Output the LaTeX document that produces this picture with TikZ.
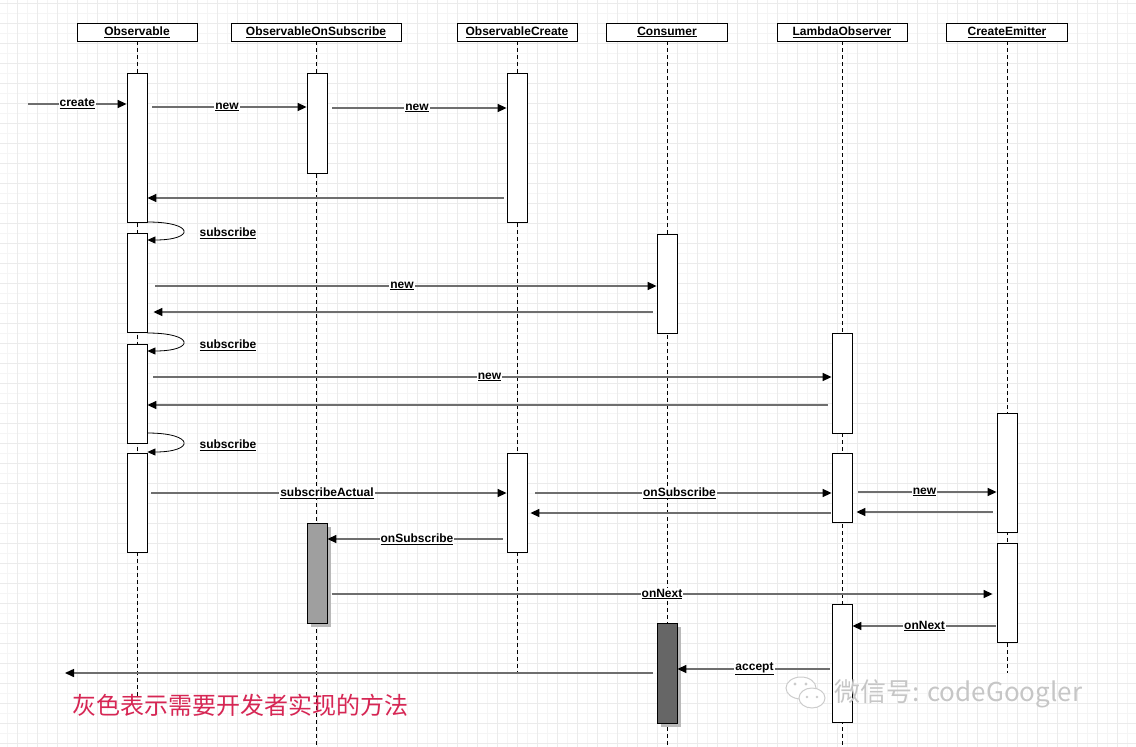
\documentclass[tikz,border=0pt]{standalone}
\usepackage{fontspec}
\setmainfont{Liberation Sans}
\newfontfamily\cjk{Noto Sans CJK SC}
\usetikzlibrary{arrows.meta,shadows}

\definecolor{msggray}{HTML}{6E6E6E}
\definecolor{notered}{RGB}{214,38,84}

\tikzset{
  head/.style={draw, fill=white, line width=0.8pt, minimum height=18pt, inner sep=0pt,
    font=\fontsize{12}{13}\selectfont\bfseries},
  life/.style={line width=0.6pt, dash pattern=on 4pt off 3pt},
  actbox/.style={draw, fill=white, line width=0.8pt, minimum width=20pt, inner sep=0pt},
  userbox/.style={actbox, drop shadow={shadow xshift=4pt, shadow yshift=-4pt, fill=gray!55, opacity=1}},
  msg/.style={draw=msggray, line width=1.5pt, -{Triangle[length=9pt,width=8pt,color=black]}},
  selfmsg/.style={draw=black, line width=0.8pt, -{Triangle[length=8pt,width=7pt]}},
  lab/.style={fill=white, inner sep=1pt, font=\fontsize{12}{13}\selectfont\bfseries},
}

\begin{document}
\begin{tikzpicture}[x=1pt, y=-1pt]
  \useasboundingbox (0,0) rectangle (1136,747);
  % grid paper
  \foreach \gx in {7,17,...,1136} \draw[gray!8, line width=0.5pt] (\gx,0) -- (\gx,747);
  \foreach \gy in {3,13,...,747} \draw[gray!8, line width=0.5pt] (0,\gy) -- (1136,\gy);
  \foreach \gx in {17,37,...,1136} \draw[gray!16, line width=0.6pt] (\gx,0) -- (\gx,747);
  \foreach \gy in {3,23,...,747} \draw[gray!16, line width=0.6pt] (0,\gy) -- (1136,\gy);

  % lifeline heads
  \node[head, minimum width=120pt] at (137, 32)  (obs) {\underline{Observable}};
  \node[head, minimum width=170pt] at (316, 32)  (ons) {\underline{ObservableOnSubscribe}};
  \node[head, minimum width=120pt] at (517, 32)  (cre) {\underline{ObservableCreate}};
  \node[head, minimum width=121pt] at (667, 32)  (con) {\underline{Consumer}};
  \node[head, minimum width=130pt] at (842, 32)  (lam) {\underline{LambdaObserver}};
  \node[head, minimum width=121pt] at (1007, 32) (emi) {\underline{CreateEmitter}};

  \draw[life] (obs.south) -- (obs.south |- 0,698);
  \draw[life] (ons.south) -- (ons.south |- 0,747);
  \draw[life] (cre.south) -- (cre.south |- 0,673);
  \draw[life] (con.south) -- (con.south |- 0,747);
  \draw[life] (lam.south) -- (lam.south |- 0,747);
  \draw[life] (emi.south) -- (emi.south |- 0,673);

  % activations
  \node[actbox, minimum height=149pt] at (137, 147.5) (obsA1) {};
  \node[actbox, minimum height=99pt]  at (137, 282.5) (obsA2) {};
  \node[actbox, minimum height=99pt]  at (137, 393.5) (obsA3) {};
  \node[actbox, minimum height=99pt]  at (137, 502.5) (obsA4) {};
  \node[actbox, minimum height=100pt] at (317, 123)   (onsA1) {};
  \node[userbox, fill=gray!75, minimum height=100pt] at (317, 573) (onsA2) {};
  \node[actbox, minimum height=149pt] at (517, 147.5) (creA1) {};
  \node[actbox, minimum height=99pt]  at (517, 502.5) (creA2) {};
  \node[actbox, minimum height=99pt]  at (667, 283.5) (conA1) {};
  \node[userbox, fill=black!60, minimum height=100pt] at (667, 673) (conA2) {};
  \node[actbox, minimum height=100pt] at (842, 383)   (lamA1) {};
  \node[actbox, minimum height=69pt]  at (842, 487.5) (lamA2) {};
  \node[actbox, minimum height=118pt] at (842, 663)   (lamA3) {};
  \node[actbox, minimum height=119pt] at (1007, 472.5) (emiA1) {};
  \node[actbox, minimum height=99pt]  at (1007, 592.5) (emiA2) {};

  % messages
  \coordinate (caller) at (28, 104);
  \coordinate (back) at (65, 673);
  \path[msg] (caller) -- (obsA1.west |- 0,104) node[lab, midway] {\underline{create}};
  \path[msg, shorten <=5pt] (obsA1.east |- 0,107) -- (onsA1.west |- 0,107) node[lab, midway] {\underline{new}};
  \path[msg, shorten <=5pt] (onsA1.east |- 0,108) -- (creA1.west |- 0,108) node[lab, midway] {\underline{new}};
  \path[msg, shorten <=3pt] (creA1.west |- 0,198) -- (obsA1.east |- 0,198);

  \path[selfmsg] (obsA1.east |- 0,222) .. controls (195,222) and (195,240) .. (obsA2.east |- 0,240);
  \node[lab, fill=none] at (228, 233) (sub1) {\underline{subscribe}};
  \path[msg, shorten <=8pt] (obsA2.east |- 0,286) -- (conA1.west |- 0,286) node[lab, midway] {\underline{new}};
  \path[msg, shorten <=4pt, shorten >=6pt] (conA1.west |- 0,312) -- (obsA2.east |- 0,312);

  \path[selfmsg] (obsA2.east |- 0,333) .. controls (195,333) and (195,351) .. (obsA3.east |- 0,351);
  \node[lab, fill=none] at (228, 345) (sub2) {\underline{subscribe}};
  \path[msg, shorten <=6pt] (obsA3.east |- 0,377) -- (lamA1.west |- 0,377) node[lab, midway] {\underline{new}};
  \path[msg, shorten <=4pt] (lamA1.west |- 0,405) -- (obsA3.east |- 0,405);

  \path[selfmsg] (obsA3.east |- 0,433) .. controls (195,433) and (195,452) .. (obsA4.east |- 0,452);
  \node[lab, fill=none] at (228, 445) (sub3) {\underline{subscribe}};
  \path[msg, shorten <=4pt] (obsA4.east |- 0,493) -- (creA2.west |- 0,493) node[lab, midway] {\underline{subscribeActual}};
  \path[msg, shorten <=8pt] (creA2.east |- 0,493) -- (lamA2.west |- 0,493) node[lab, midway] {\underline{onSubscribe}};
  \path[msg, shorten <=6pt] (lamA2.east |- 0,492) -- (emiA1.west |- 0,492) node[lab, midway] {\underline{new}};
  \path[msg, shorten <=4pt, shorten >=4pt] (emiA1.west |- 0,512) -- (lamA2.east |- 0,512);
  \path[msg, shorten <=1pt, shorten >=3pt] (lamA2.west |- 0,513) -- (creA2.east |- 0,513);
  \path[msg, shorten <=4pt] (creA2.west |- 0,539) -- (onsA2.east |- 0,539) node[lab, midway] {\underline{onSubscribe}};

  \path[msg, shorten <=5pt, shorten >=4pt] (onsA2.east |- 0,594) -- (emiA2.west |- 0,594) node[lab, midway] {\underline{onNext}};
  \path[msg, shorten <=1pt] (emiA2.west |- 0,626) -- (lamA3.east |- 0,626) node[lab, midway] {\underline{onNext}};
  \path[msg, shorten <=2pt] (lamA3.west |- 0,669) -- (conA2.east |- 0,669) node[lab, midway] {\underline{accept}};
  \path[msg, shorten <=4pt] (conA2.west |- 0,673) -- (back);

  % note and watermark
  \node[anchor=west, inner sep=0pt, text=notered, font=\cjk\fontsize{24}{26}\selectfont] at (72, 705) (note) {灰色表示需要开发者实现的方法};
  \draw[gray!40, line width=1pt, fill=white] (801,688) ellipse (15 and 11);
  \draw[gray!40, line width=1pt, fill=white] (812,698) ellipse (13 and 10);
  \fill[gray!40] (795,684) circle (1.6) (806,684) circle (1.6) (807,697) circle (1.4) (817,697) circle (1.4);
  \node[anchor=west, inner sep=0pt, text=gray!45, font=\cjk\fontsize{26}{28}\selectfont] at (834, 694) (mark) {微信号: codeGoogler};
\end{tikzpicture}
\end{document}
